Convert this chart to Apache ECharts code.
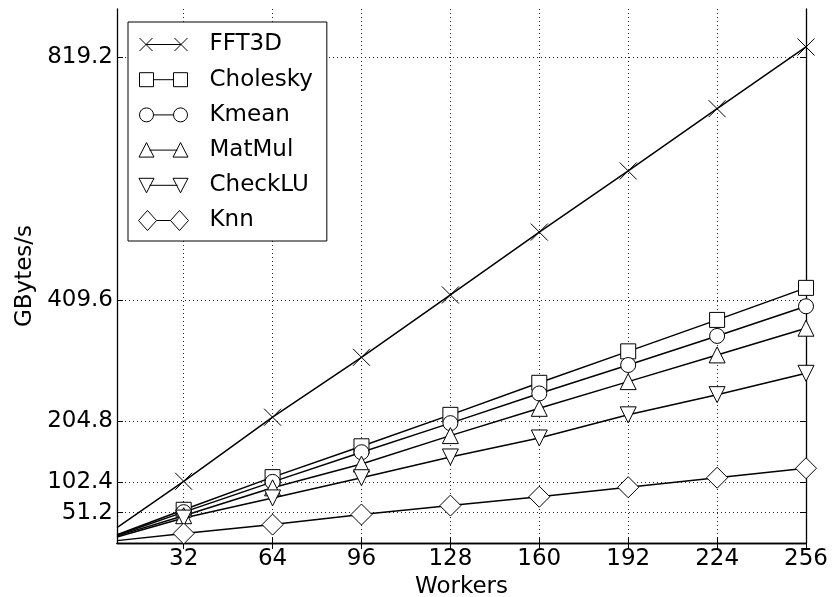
<!DOCTYPE html>
<html>
<head>
<meta charset="utf-8">
<script src="https://cdn.jsdelivr.net/npm/echarts@6/dist/echarts.min.js"></script>
<style>html,body{margin:0;padding:0;background:#fff}#c{width:832px;height:597px}</style>
</head>
<body>
<div id="c"></div>
<script>
const workers = [8, 32, 64, 96, 128, 160, 192, 224, 256];
const xTicks = [32, 64, 96, 128, 160, 192, 224, 256];
const yTicks = [51.2, 102.4, 204.8, 409.6, 819.2];
const seriesNames = ['FFT3D', 'Cholesky', 'Kmean', 'MatMul', 'CheckLU', 'Knn'];
const fft3d    = [26, 104, 212, 313, 418, 524, 627, 732, 836];
const cholesky = [14, 56, 111, 163, 216, 270, 323, 376, 430];
const kmean    = [13, 52, 103, 153, 202, 252, 300, 349, 399];
const matmul   = [12, 46, 93, 133, 181, 227, 272, 317, 362];
const checklu  = [10, 42, 76, 110, 145, 177, 216, 250, 286];
const knn      = [4, 16, 31, 48, 63, 78, 94, 110, 126];

const FONT = 'DejaVu Sans';
const symbols = {
  FFT3D: {s: 'path://M0 0L10 10M10 0L0 10', size: 17},
  Cholesky: {s: 'rect', size: 15},
  Kmean: {s: 'circle', size: 15},
  MatMul: {s: 'triangle', size: 16},
  CheckLU: {s: 'path://M0 0L10 0L5 10Z', size: 16},
  Knn: {s: 'diamond', size: 21}
};
// legend icons, 50x20 box
const legendIcons = {
  FFT3D: 'path://M0 0M50 20M1 3.5L14 16.5M14 3.5L1 16.5M7.5 10L42.5 10M36 3.5L49 16.5M49 3.5L36 16.5',
  Cholesky: 'path://M0 0M50 20M1 3L15 3L15 17L1 17ZM15 10L35 10M35 3L49 3L49 17L35 17Z',
  Kmean: 'path://M0 0M50 20M15 10A7 7 0 1 0 1 10A7 7 0 1 0 15 10ZM15 10L35 10M49 10A7 7 0 1 0 35 10A7 7 0 1 0 49 10Z',
  MatMul: 'path://M0 0M50 20M8 2.5L15.5 17L0.5 17ZM11 10L39 10M42 2.5L49.5 17L34.5 17Z',
  CheckLU: 'path://M0 0M50 20M0.5 3L15.5 3L8 17.5ZM11 10L39 10M34.5 3L49.5 3L42 17.5Z',
  Knn: 'path://M0 0M50 20M9 0L18 10L9 20L0 10ZM18 10L32 10M41 0L50 10L41 20L32 10Z'
};
const values = [fft3d, cholesky, kmean, matmul, checklu, knn];

const series = seriesNames.map((name, i) => ({
  name: name,
  type: 'line',
  xAxisIndex: 0,
  yAxisIndex: 0,
  symbol: symbols[name].s,
  symbolSize: symbols[name].size,
  showAllSymbol: true,
  clip: true,
  animation: false,
  lineStyle: {color: '#000', width: 1.5},
  itemStyle: {color: '#fff', borderColor: '#000', borderWidth: 1},
  emphasis: {disabled: true},
  data: workers.map((w, j) => j === 0 ? {value: [w, values[i][j]], symbol: 'none'} : [w, values[i][j]])
}));

const axisCommon = {
  axisLine: {show: true, lineStyle: {color: '#000', width: 1.3}},
};

const option = {
  backgroundColor: '#fff',
  animation: false,
  textStyle: {fontFamily: FONT},
  grid: {left: 117, right: 26, top: 9, bottom: 54, containLabel: false, outerBoundsMode: 'none'},
  legend: {
    orient: 'vertical',
    left: 128,
    top: 22,
    padding: [11, 14, 9, 10],
    itemWidth: 50,
    itemHeight: 20,
    itemGap: 12.2,
    backgroundColor: '#fff',
    borderColor: '#000',
    borderWidth: 1,
    borderRadius: 0,
    selectedMode: false,
    textStyle: {fontFamily: FONT, fontSize: 23, color: '#000', padding: [0, 0, 0, 16], lineHeight: 20},
    data: seriesNames.map(n => ({name: n, icon: legendIcons[n], itemStyle: {color: '#fff', borderColor: '#000', borderWidth: 1}}))
  },
  xAxis: [
    Object.assign({}, axisCommon, {
      type: 'value', min: 8, max: 256, position: 'bottom',
      name: 'Workers', nameLocation: 'middle', nameGap: 29,
      nameTextStyle: {fontFamily: FONT, fontSize: 23, color: '#000'},
      axisTick: {show: true, inside: true, length: 6, customValues: xTicks, lineStyle: {color: '#000', width: 1}},
      axisLabel: {customValues: xTicks, fontFamily: FONT, fontSize: 23, color: '#000', margin: 5},
      splitLine: {show: true, lineStyle: {color: '#222', width: 1, type: [1, 3]}}
    }),
    Object.assign({}, axisCommon, {
      type: 'value', min: 8, max: 256, position: 'top',
      axisTick: {show: true, inside: true, length: 6, customValues: xTicks, lineStyle: {color: '#000', width: 1}},
      axisLabel: {show: false, customValues: xTicks},
      splitLine: {show: false}
    })
  ],
  yAxis: [
    Object.assign({}, axisCommon, {
      type: 'value', min: 0, max: 900, position: 'left',
      name: 'GBytes/s', nameLocation: 'middle', nameGap: 77,
      nameTextStyle: {fontFamily: FONT, fontSize: 23, color: '#000'},
      axisTick: {show: true, inside: true, length: 6, customValues: yTicks, lineStyle: {color: '#000', width: 1}},
      axisLabel: {customValues: yTicks, fontFamily: FONT, fontSize: 23, color: '#000', margin: 4,
        formatter: v => v.toFixed(1)},
      splitLine: {show: true, lineStyle: {color: '#222', width: 1, type: [1, 3]}}
    }),
    Object.assign({}, axisCommon, {
      type: 'value', min: 0, max: 900, position: 'right',
      axisTick: {show: true, inside: true, length: 6, customValues: yTicks, lineStyle: {color: '#000', width: 1}},
      axisLabel: {show: false, customValues: yTicks},
      splitLine: {show: false}
    })
  ],
  series: series
};

const chart = echarts.init(document.getElementById('c'), null, {renderer: 'canvas'});
chart.setOption(option);
</script>
</body>
</html>
